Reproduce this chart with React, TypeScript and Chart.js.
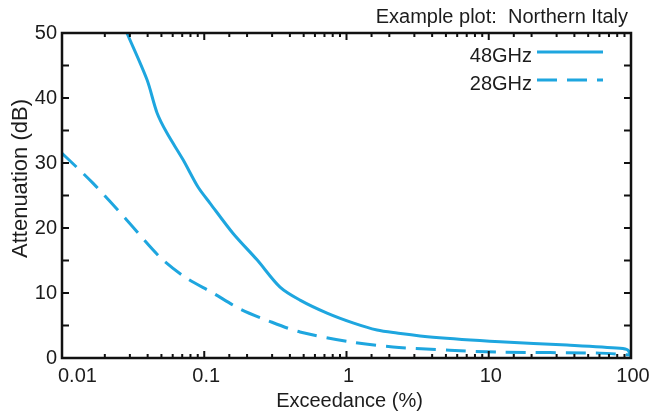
import React, { useEffect, useRef } from "react";
import { Chart, registerables } from "chart.js";

Chart.register(...registerables);

// ---- data ----
const exceedance48 = [0.0286, 0.0396, 0.0466, 0.0547, 0.071, 0.0904, 0.11, 0.159, 0.235, 0.341, 0.471, 0.73, 1.11, 1.64, 2.26, 4.06, 12, 35.5, 83.7, 95.3, 100];
const attenuation48 = [50, 42.8, 37.7, 34.6, 30.5, 26.3, 23.8, 19.2, 15.1, 10.9, 8.9, 6.9, 5.4, 4.3, 3.85, 3.2, 2.5, 2.0, 1.5, 1.2, 0.2];

const exceedance28 = [0.01, 0.0165, 0.0286, 0.0489, 0.0736, 0.115, 0.18, 0.276, 0.471, 1.06, 2.12, 5.3, 12, 60.5, 100];
const attenuation28 = [31.5, 26.9, 21.2, 15.5, 12.4, 10, 7.5, 5.8, 4.0, 2.5, 1.7, 1.2, 0.9, 0.75, 0.45];

const seriesLabels = ["48GHz", "28GHz"];
const xTickValues = [0.01, 0.1, 1, 10, 100];
const yMin = 0;
const yMax = 50;
const yStep = 5;
const yLabelStep = 10;

const titleText = "Example plot:  Northern Italy";
const xTitle = "Exceedance (%)";
const yTitle = "Attenuation (dB)";

// ---- styles ----
const FONT = '"Liberation Sans", Arial, Helvetica, sans-serif';
const LINE_COLOR = "#1ea6df";
const TEXT_COLOR = "#1c1c1c";
const AXIS_COLOR = "#111111";
const DASH = [20, 10];

const isPow10 = (v: number) => Math.abs(Math.log10(v) - Math.round(Math.log10(v))) < 1e-6;

const decorPlugin = {
  id: "decor",
  afterDraw(chart: any) {
    const { ctx, chartArea: a, scales } = chart;
    const xs = scales.x;
    const ys = scales.y;
    ctx.save();

    // tick marks (inward, mirrored)
    ctx.strokeStyle = AXIS_COLOR;
    ctx.lineWidth = 2;
    ctx.setLineDash([]);
    ctx.beginPath();
    xs.ticks.forEach((t: any) => {
      const px = xs.getPixelForValue(t.value);
      if (px <= a.left + 1 || px >= a.right - 1) return;
      const len = isPow10(t.value) ? 7 : 4;
      ctx.moveTo(px, a.bottom);
      ctx.lineTo(px, a.bottom - len);
      ctx.moveTo(px, a.top);
      ctx.lineTo(px, a.top + len);
    });
    ys.ticks.forEach((t: any) => {
      const py = ys.getPixelForValue(t.value);
      if (py <= a.top + 1 || py >= a.bottom - 1) return;
      ctx.moveTo(a.left, py);
      ctx.lineTo(a.left + 7, py);
      ctx.moveTo(a.right, py);
      ctx.lineTo(a.right - 7, py);
    });
    ctx.stroke();

    // frame
    ctx.lineWidth = 2.5;
    ctx.strokeRect(a.left, a.top, a.right - a.left, a.bottom - a.top);

    // x tick labels
    ctx.fillStyle = TEXT_COLOR;
    ctx.font = `20px ${FONT}`;
    ctx.textBaseline = "alphabetic";
    xTickValues.forEach((v, i) => {
      const px = xs.getPixelForValue(v);
      if (i === 0) {
        ctx.textAlign = "left";
        ctx.fillText(String(v), px - 4, a.bottom + 24);
      } else {
        ctx.textAlign = "center";
        ctx.fillText(String(v), px + 2, a.bottom + 24);
      }
    });

    // x title
    ctx.textAlign = "center";
    ctx.fillText(xTitle, (a.left + a.right) / 2 + 3, a.bottom + 49);

    // chart title
    ctx.textAlign = "right";
    ctx.fillText(titleText, a.right - 3, a.top - 10);

    // y title
    ctx.save();
    ctx.font = `22px ${FONT}`;
    ctx.translate(27, (a.top + a.bottom) / 2 - 17);
    ctx.rotate(-Math.PI / 2);
    ctx.textAlign = "center";
    ctx.textBaseline = "alphabetic";
    ctx.fillText(yTitle, 0, 0);
    ctx.restore();

    // legend
    chart.data.datasets.forEach((ds: any, i: number) => {
      const lineY = a.top + 19 + i * 28;
      const textY = lineY + 10;
      ctx.font = `20px ${FONT}`;
      ctx.fillStyle = TEXT_COLOR;
      ctx.textAlign = "right";
      ctx.textBaseline = "alphabetic";
      ctx.fillText(ds.label, a.right - 99, textY);
      ctx.strokeStyle = ds.borderColor;
      ctx.lineWidth = ds.borderWidth;
      ctx.setLineDash(ds.borderDash || []);
      ctx.beginPath();
      ctx.moveTo(a.right - 94, lineY);
      ctx.lineTo(a.right - 28, lineY);
      ctx.stroke();
    });
    ctx.setLineDash([]);
    ctx.restore();
  },
};

export default function App() {
  const canvasRef = useRef<HTMLCanvasElement | null>(null);

  useEffect(() => {
    if (!canvasRef.current) return;
    const chart = new Chart(canvasRef.current, {
      type: "line",
      data: {
        datasets: [
          {
            label: seriesLabels[0],
            data: exceedance48.map((x, i) => ({ x, y: attenuation48[i] })),
            borderColor: LINE_COLOR,
            borderWidth: 3,
            pointRadius: 0,
            fill: false,
            tension: 0.3,
          },
          {
            label: seriesLabels[1],
            data: exceedance28.map((x, i) => ({ x, y: attenuation28[i] })),
            borderColor: LINE_COLOR,
            borderWidth: 3,
            borderDash: DASH,
            pointRadius: 0,
            fill: false,
            tension: 0.3,
          },
        ],
      },
      options: {
        animation: false,
        responsive: true,
        maintainAspectRatio: false,
        devicePixelRatio: 1,
        layout: { padding: { top: 33, right: 19, left: 0, bottom: 0 } },
        plugins: {
          legend: { display: false },
          tooltip: { enabled: false },
          title: { display: false },
        },
        scales: {
          x: {
            type: "logarithmic",
            min: xTickValues[0],
            max: xTickValues[xTickValues.length - 1],
            grid: { display: false, drawTicks: false },
            border: { display: false },
            ticks: { display: false },
            afterFit: (s: any) => {
              s.height = 54;
            },
          },
          y: {
            type: "linear",
            min: yMin,
            max: yMax,
            grid: { display: false, drawTicks: false },
            border: { display: false },
            ticks: {
              stepSize: yStep,
              autoSkip: false,
              padding: 5,
              color: TEXT_COLOR,
              font: { family: FONT, size: 20 },
              callback: (v: any) => (Number(v) % yLabelStep === 0 ? String(v) : ""),
            },
            afterFit: (s: any) => {
              s.width = 62;
            },
          },
        },
      },
      plugins: [decorPlugin],
    });
    return () => chart.destroy();
  }, []);

  return (
    <div style={{ position: "fixed", left: 0, top: 0, width: 650, height: 412, background: "#fff" }}>
      <canvas ref={canvasRef} />
    </div>
  );
}
